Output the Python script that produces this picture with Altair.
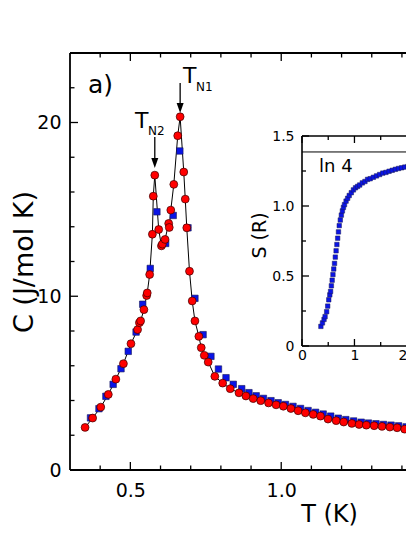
import altair as alt
import pandas as pd

# ---------------- data ----------------
red_T = [0.350, 0.375, 0.402, 0.427, 0.452, 0.477, 0.502, 0.524, 0.530, 0.534, 0.545, 0.554, 0.556,
         0.564, 0.573, 0.576, 0.581, 0.594, 0.603, 0.606, 0.615, 0.627, 0.629, 0.634, 0.644, 0.657,
         0.665, 0.677, 0.682, 0.687, 0.696, 0.705, 0.714, 0.727, 0.735, 0.745, 0.758, 0.780, 0.806,
         0.831, 0.860, 0.883, 0.907, 0.932, 0.958, 0.983, 1.007, 1.032, 1.056, 1.080, 1.106, 1.130,
         1.155, 1.182, 1.207, 1.234, 1.258, 1.282, 1.308, 1.334, 1.360, 1.384, 1.409, 1.431, 1.455]
red_C = [2.45, 2.99, 3.62, 4.35, 5.23, 6.12, 7.27, 8.08, 8.48, 8.58, 9.23, 10.04, 10.19,
         11.25, 13.57, 15.76, 16.97, 13.84, 12.90, 13.00, 13.27, 14.19, 13.96, 14.96, 16.44, 19.24,
         20.33, 17.15, 15.59, 13.94, 11.44, 9.73, 8.58, 7.69, 7.04, 6.60, 6.21, 5.39, 5.00,
         4.68, 4.44, 4.26, 4.11, 3.99, 3.86, 3.75, 3.67, 3.54, 3.41, 3.29, 3.20, 3.10,
         2.93, 2.84, 2.76, 2.68, 2.62, 2.58, 2.55, 2.51, 2.47, 2.43, 2.35, 2.29, 2.25]

blue_T = [0.368, 0.396, 0.419, 0.443, 0.469, 0.493, 0.519, 0.541, 0.566, 0.588, 0.617, 0.642, 0.664,
          0.691, 0.714, 0.741, 0.767, 0.792, 0.817, 0.841, 0.869, 0.893, 0.917, 0.941, 0.966, 0.990,
          1.014, 1.039, 1.064, 1.089, 1.114, 1.139, 1.164, 1.189, 1.214, 1.240, 1.265, 1.289, 1.314,
          1.339, 1.364, 1.389, 1.414, 1.440]
blue_C = [3.00, 3.53, 4.24, 4.93, 5.83, 6.83, 7.94, 9.54, 11.60, 14.86, 13.04, 14.65, 18.36,
          13.94, 9.88, 7.79, 6.54, 5.81, 5.31, 4.93, 4.68, 4.45, 4.27, 4.12, 3.99, 3.87,
          3.77, 3.66, 3.54, 3.42, 3.32, 3.22, 3.10, 2.98, 2.90, 2.82, 2.75, 2.70, 2.66,
          2.62, 2.58, 2.54, 2.48, 2.41]

ins_T = [0.36, 0.39, 0.42, 0.44, 0.47, 0.49, 0.51, 0.53, 0.545, 0.56, 0.575, 0.59, 0.605, 0.62,
         0.635, 0.65, 0.665, 0.68, 0.695, 0.71, 0.73, 0.75, 0.77, 0.79, 0.81, 0.84, 0.87, 0.90,
         0.94, 0.98, 1.02, 1.06, 1.10, 1.15, 1.20, 1.25, 1.30, 1.36, 1.42, 1.48, 1.54, 1.60,
         1.66, 1.72, 1.78, 1.84, 1.90, 1.96, 2.02, 2.08]
ins_S = [0.14, 0.165, 0.19, 0.21, 0.245, 0.285, 0.33, 0.365, 0.39, 0.43, 0.47, 0.51, 0.55, 0.59,
         0.635, 0.68, 0.725, 0.77, 0.815, 0.86, 0.90, 0.935, 0.965, 0.99, 1.01, 1.035, 1.055, 1.075,
         1.095, 1.115, 1.13, 1.14, 1.15, 1.165, 1.175, 1.19, 1.195, 1.205, 1.215, 1.225, 1.235, 1.24,
         1.248, 1.255, 1.262, 1.268, 1.273, 1.278, 1.283, 1.287]

main_x_major = [0.5, 1.0]
main_x_minor = [0.4, 0.6, 0.7, 0.8, 0.9, 1.1, 1.2, 1.3, 1.4]
main_y_major = [0, 10, 20]
main_y_minor = [2, 4, 6, 8, 12, 14, 16, 18, 22]
ins_x_major = [0, 1, 2]
ins_x_minor = [0.5, 1.5]
ins_y_major = [0, 0.5, 1.0, 1.5]
ins_y_minor = [0.25, 0.75, 1.25]
ln4 = [1.386]
peaks_T = [0.581, 0.665]

FONT = "DejaVu Sans"
W, H = 336, 417          # visible plot area (page is 414 px wide)
XR = 344                 # pixel length of the main x range (extends past the page edge)
IX0, IX1 = 232, 344      # inset pixel range (x) inside the plot
IY0, IY1 = 293, 83       # inset pixel range (y) inside the plot

xs = alt.Scale(domain=[0.3, 1.44], range=[0, XR], nice=False, zero=False)
ys = alt.Scale(domain=[0, 24], nice=False, zero=False)
xi = alt.Scale(domain=[0, 2.135], range=[IX0, IX1], nice=False, zero=False)
yi = alt.Scale(domain=[0, 1.5], range=[IY0, IY1], nice=False, zero=False)

red_df = pd.DataFrame({"T": red_T, "C": red_C})
blue_df = pd.DataFrame({"T": blue_T, "C": blue_C})
ins_df = pd.DataFrame({"T": ins_T, "S": ins_S})
one = pd.DataFrame({"a": [0]})

x_axis = alt.Axis(values=main_x_major, format=".1f", labelFont=FONT, labelFontSize=19,
                  labelColor="black", labelPadding=11, labelFlush=False, ticks=False, tickSize=0,
                  domain=False, grid=False, title="T (K)", titleFont=FONT, titleFontSize=24,
                  titleFontWeight="normal", titleColor="black", titleX=259, titleY=51,
                  titleBaseline="alphabetic", titleAlign="center")
y_axis = alt.Axis(values=main_y_major, labelFont=FONT, labelFontSize=19, labelColor="black",
                  labelPadding=9, labelFlush=False, ticks=False, tickSize=0, domain=False, grid=False,
                  title="C (J/mol K)", titleFont=FONT, titleFontSize=27, titleFontWeight="normal",
                  titleColor="black", titleX=-38, titleBaseline="alphabetic", titleAngle=-90)

X = alt.X("T:Q", scale=xs, axis=x_axis)
Y = alt.Y("C:Q", scale=ys, axis=y_axis)

line = alt.Chart(red_df).mark_line(color="black", strokeWidth=1, clip=True).encode(x=X, y=Y)
blue = alt.Chart(blue_df).mark_point(shape="square", filled=True, size=42, fill="#0a14e6",
                                     stroke="#1a1a55", strokeWidth=0.6, opacity=1, clip=True).encode(
    x=alt.X("T:Q", scale=xs), y=alt.Y("C:Q", scale=ys))
red = alt.Chart(red_df).mark_point(shape="circle", filled=True, size=62, fill="#ff0000",
                                   stroke="#3a0000", strokeWidth=0.7, opacity=1, clip=True).encode(
    x=alt.X("T:Q", scale=xs), y=alt.Y("C:Q", scale=ys))

def xticks(vals, y0, y1):
    return alt.Chart(pd.DataFrame({"T": vals})).mark_rule(color="black", strokeWidth=1.3, clip=True).encode(
        x=alt.X("T:Q", scale=xs), y=alt.value(y0), y2=alt.value(y1))

def yticks(vals, x0, x1):
    return alt.Chart(pd.DataFrame({"C": vals})).mark_rule(color="black", strokeWidth=1.3).encode(
        y=alt.Y("C:Q", scale=ys), x=alt.value(x0), x2=alt.value(x1))

frame_main = [
    alt.Chart(one).mark_rule(color="black", strokeWidth=1.8).encode(
        x=alt.value(0), x2=alt.value(W), y=alt.value(0)),
    alt.Chart(one).mark_rule(color="black", strokeWidth=1.8).encode(
        x=alt.value(0), x2=alt.value(W), y=alt.value(H)),
    alt.Chart(one).mark_rule(color="black", strokeWidth=1.8).encode(
        x=alt.value(0), y=alt.value(0), y2=alt.value(H)),
]
ticks_main = [
    xticks(main_x_major, H, H - 8), xticks(main_x_minor, H, H - 4.5),
    xticks(main_x_major, 0, 8), xticks(main_x_minor, 0, 4.5),
    yticks(main_y_major, 0, 8), yticks(main_y_minor, 0, 4.5),
]

pk = pd.DataFrame({"T": peaks_T, "y0": [84, 30], "y1": [106, 51], "yh": [110, 55]})
arrow_shaft = alt.Chart(pk).mark_rule(color="black", strokeWidth=1.3).encode(
    x=alt.X("T:Q", scale=xs), y=alt.Y("y0:Q", scale=None), y2="y1:Q")
arrow_head = alt.Chart(pk).mark_point(shape="M-0.7,-1L0.7,-1L0,1Z", filled=True, fill="black",
                                      opacity=1, size=100, strokeWidth=0).encode(
    x=alt.X("T:Q", scale=xs), y=alt.Y("yh:Q", scale=None))

def txt(s, x, y, size, align="left"):
    return alt.Chart(one).mark_text(text=s, font=FONT, fontSize=size, color="black", align=align,
                                    baseline="alphabetic").encode(x=alt.value(x), y=alt.value(y))

labels_main = [
    txt("a)", 18, 40, 25),
    txt("T", 65, 75, 22), txt("N2", 78, 82, 12),
    txt("T", 113, 30, 22), txt("N1", 126, 38, 12),
]

main = alt.layer(line, blue, red, *frame_main, *ticks_main, arrow_shaft, arrow_head, *labels_main)

# ---------------- inset ----------------
xi_axis = alt.Axis(values=ins_x_major, format="d", orient="bottom", offset=-(H - IY0),
                   labelFont=FONT, labelFontSize=14, labelColor="black", labelPadding=2,
                   labelFlush=False, ticks=False, tickSize=0, domain=False, grid=False, title=None,
                   labelAlign={"expr": "datum.value == 2 ? 'right' : 'center'"})
yi_axis = alt.Axis(values=ins_y_major, orient="left", offset=-IX0, labelFont=FONT, labelFontSize=14,
                   labelColor="black", labelPadding=8, labelFlush=False, ticks=False, tickSize=0,
                   domain=False, grid=False, labelExpr="datum.value == 0 ? '0' : format(datum.value, '.1f')",
                   title="S (R)", titleFont=FONT, titleFontSize=19, titleFontWeight="normal",
                   titleColor="black", titleX=-37, titleY=182, titleBaseline="alphabetic",
                   titleAngle=-90, titleAlign="center")

ins_pts = alt.Chart(ins_df).mark_point(shape="square", filled=True, size=20, fill="#0a14e6",
                                       stroke="#1a1a55", strokeWidth=0.5, opacity=1, clip=True).encode(
    x=alt.X("T:Q", scale=xi, axis=xi_axis), y=alt.Y("S:Q", scale=yi, axis=yi_axis))

def ixticks(vals, y0, y1):
    return alt.Chart(pd.DataFrame({"T": vals})).mark_rule(color="black", strokeWidth=1.3, clip=True).encode(
        x=alt.X("T:Q", scale=xi), y=alt.value(y0), y2=alt.value(y1))

def iyticks(vals, x0, x1):
    return alt.Chart(pd.DataFrame({"S": vals})).mark_rule(color="black", strokeWidth=1.3).encode(
        y=alt.Y("S:Q", scale=yi), x=alt.value(x0), x2=alt.value(x1))

frame_ins = [
    alt.Chart(one).mark_rule(color="black", strokeWidth=1.6).encode(
        x=alt.value(IX0), x2=alt.value(W), y=alt.value(IY1)),
    alt.Chart(one).mark_rule(color="black", strokeWidth=1.6).encode(
        x=alt.value(IX0), x2=alt.value(W), y=alt.value(IY0)),
    alt.Chart(one).mark_rule(color="black", strokeWidth=1.6).encode(
        x=alt.value(IX0), y=alt.value(IY1), y2=alt.value(IY0)),
    alt.Chart(pd.DataFrame({"S": ln4})).mark_rule(color="black", strokeWidth=1).encode(
        y=alt.Y("S:Q", scale=yi), x=alt.value(IX0), x2=alt.value(W)),
]
ticks_ins = [
    ixticks(ins_x_major, IY0, IY0 - 7), ixticks(ins_x_minor, IY0, IY0 - 4),
    ixticks(ins_x_major, IY1, IY1 + 7), ixticks(ins_x_minor, IY1, IY1 + 4),
    iyticks(ins_y_major, IX0, IX0 + 7), iyticks(ins_y_minor, IX0, IX0 + 4),
]
ln4_label = txt("ln 4", 249, 119, 18)

inset = alt.layer(ins_pts, *frame_ins, *ticks_ins, ln4_label)

chart = alt.layer(main, inset).resolve_scale(x="independent", y="independent").properties(
    width=W, height=H,
    autosize=alt.AutoSizeParams(type="none"),
    padding={"left": 62, "top": 45, "right": 0, "bottom": 57},
    background="white",
).configure_view(stroke=None)

chart.save("out.html", embed_options={"renderer": "svg", "actions": False})
